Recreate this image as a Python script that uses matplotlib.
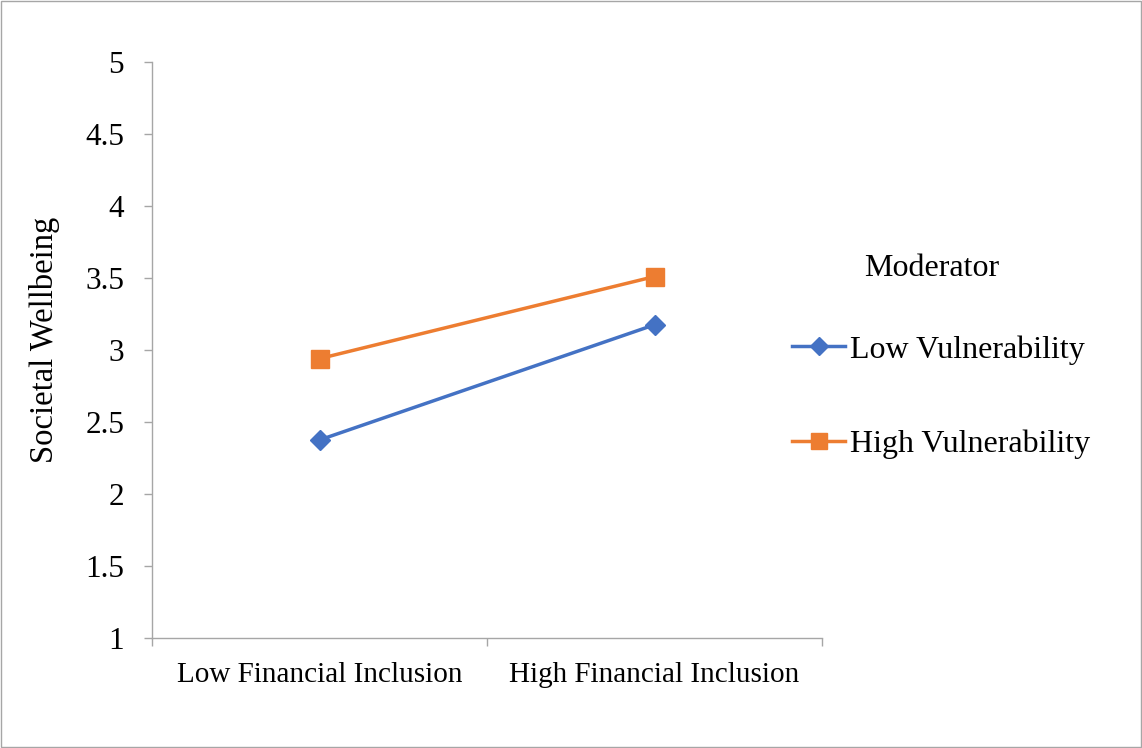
import matplotlib.pyplot as plt
from matplotlib.patches import Rectangle

# Dane
categories = ['Low Financial Inclusion', 'High Financial Inclusion']
low_vuln = [2.375, 3.175]
high_vuln = [2.94, 3.51]
y_ticks = [1, 1.5, 2, 2.5, 3, 3.5, 4, 4.5, 5]
y_tick_labels = ['1', '1.5', '2', '2.5', '3', '3.5', '4', '4.5', '5']

plt.rcParams['font.family'] = ['Liberation Serif', 'DejaVu Serif']

fig = plt.figure(figsize=(11.42, 7.48), dpi=100)
ax = fig.add_axes([0.1331, 0.1471, 0.5867, 0.7700])

x = [0.5, 1.5]
ax.plot(x, low_vuln, color='#4472C4', linewidth=2.5, marker='D', markersize=10,
        label='Low Vulnerability')
ax.plot(x, high_vuln, color='#ED7D31', linewidth=2.5, marker='s', markersize=12.5,
        label='High Vulnerability')

ax.set_xlim(0, 2)
ax.set_ylim(1, 5)
ax.set_xticks([0, 1, 2])
ax.set_xticklabels([])
ax.set_xticks(x, minor=True)
ax.set_xticklabels(categories, minor=True, fontsize=21)
ax.tick_params(axis='x', which='minor', length=0, pad=17)
ax.tick_params(axis='x', which='major', length=6, width=1, color='#A6A6A6')
ax.set_yticks(y_ticks)
ax.set_yticklabels(y_tick_labels, fontsize=22.5)
ax.tick_params(axis='y', length=6, width=1, color='#A6A6A6', pad=14)

for s in ['top', 'right']:
    ax.spines[s].set_visible(False)
for s in ['left', 'bottom']:
    ax.spines[s].set_color('#A6A6A6')
    ax.spines[s].set_linewidth(1)

ax.set_ylabel('Societal Wellbeing', fontsize=23.5)
ax.yaxis.set_label_coords(-0.137, 0.517)

# tytuł legendy osobno
fig.text(932 / 1142, 1 - 268 / 748, 'Moderator', fontsize=23, ha='center', va='center')
leg = ax.legend(loc='center left', bbox_to_anchor=(792 / 1142, 1 - 397 / 748),
                bbox_transform=fig.transFigure, frameon=False, fontsize=23,
                handlelength=1.66, handletextpad=0.15, borderpad=0,
                labelspacing=2.03, borderaxespad=0, markerscale=0.9)

# ramka wykresu
fig.patches.append(Rectangle((0.001, 0.001), 0.998, 0.998, transform=fig.transFigure,
                             fill=False, edgecolor='#A6A6A6', linewidth=1))

plt.savefig('out.png', dpi=100)
